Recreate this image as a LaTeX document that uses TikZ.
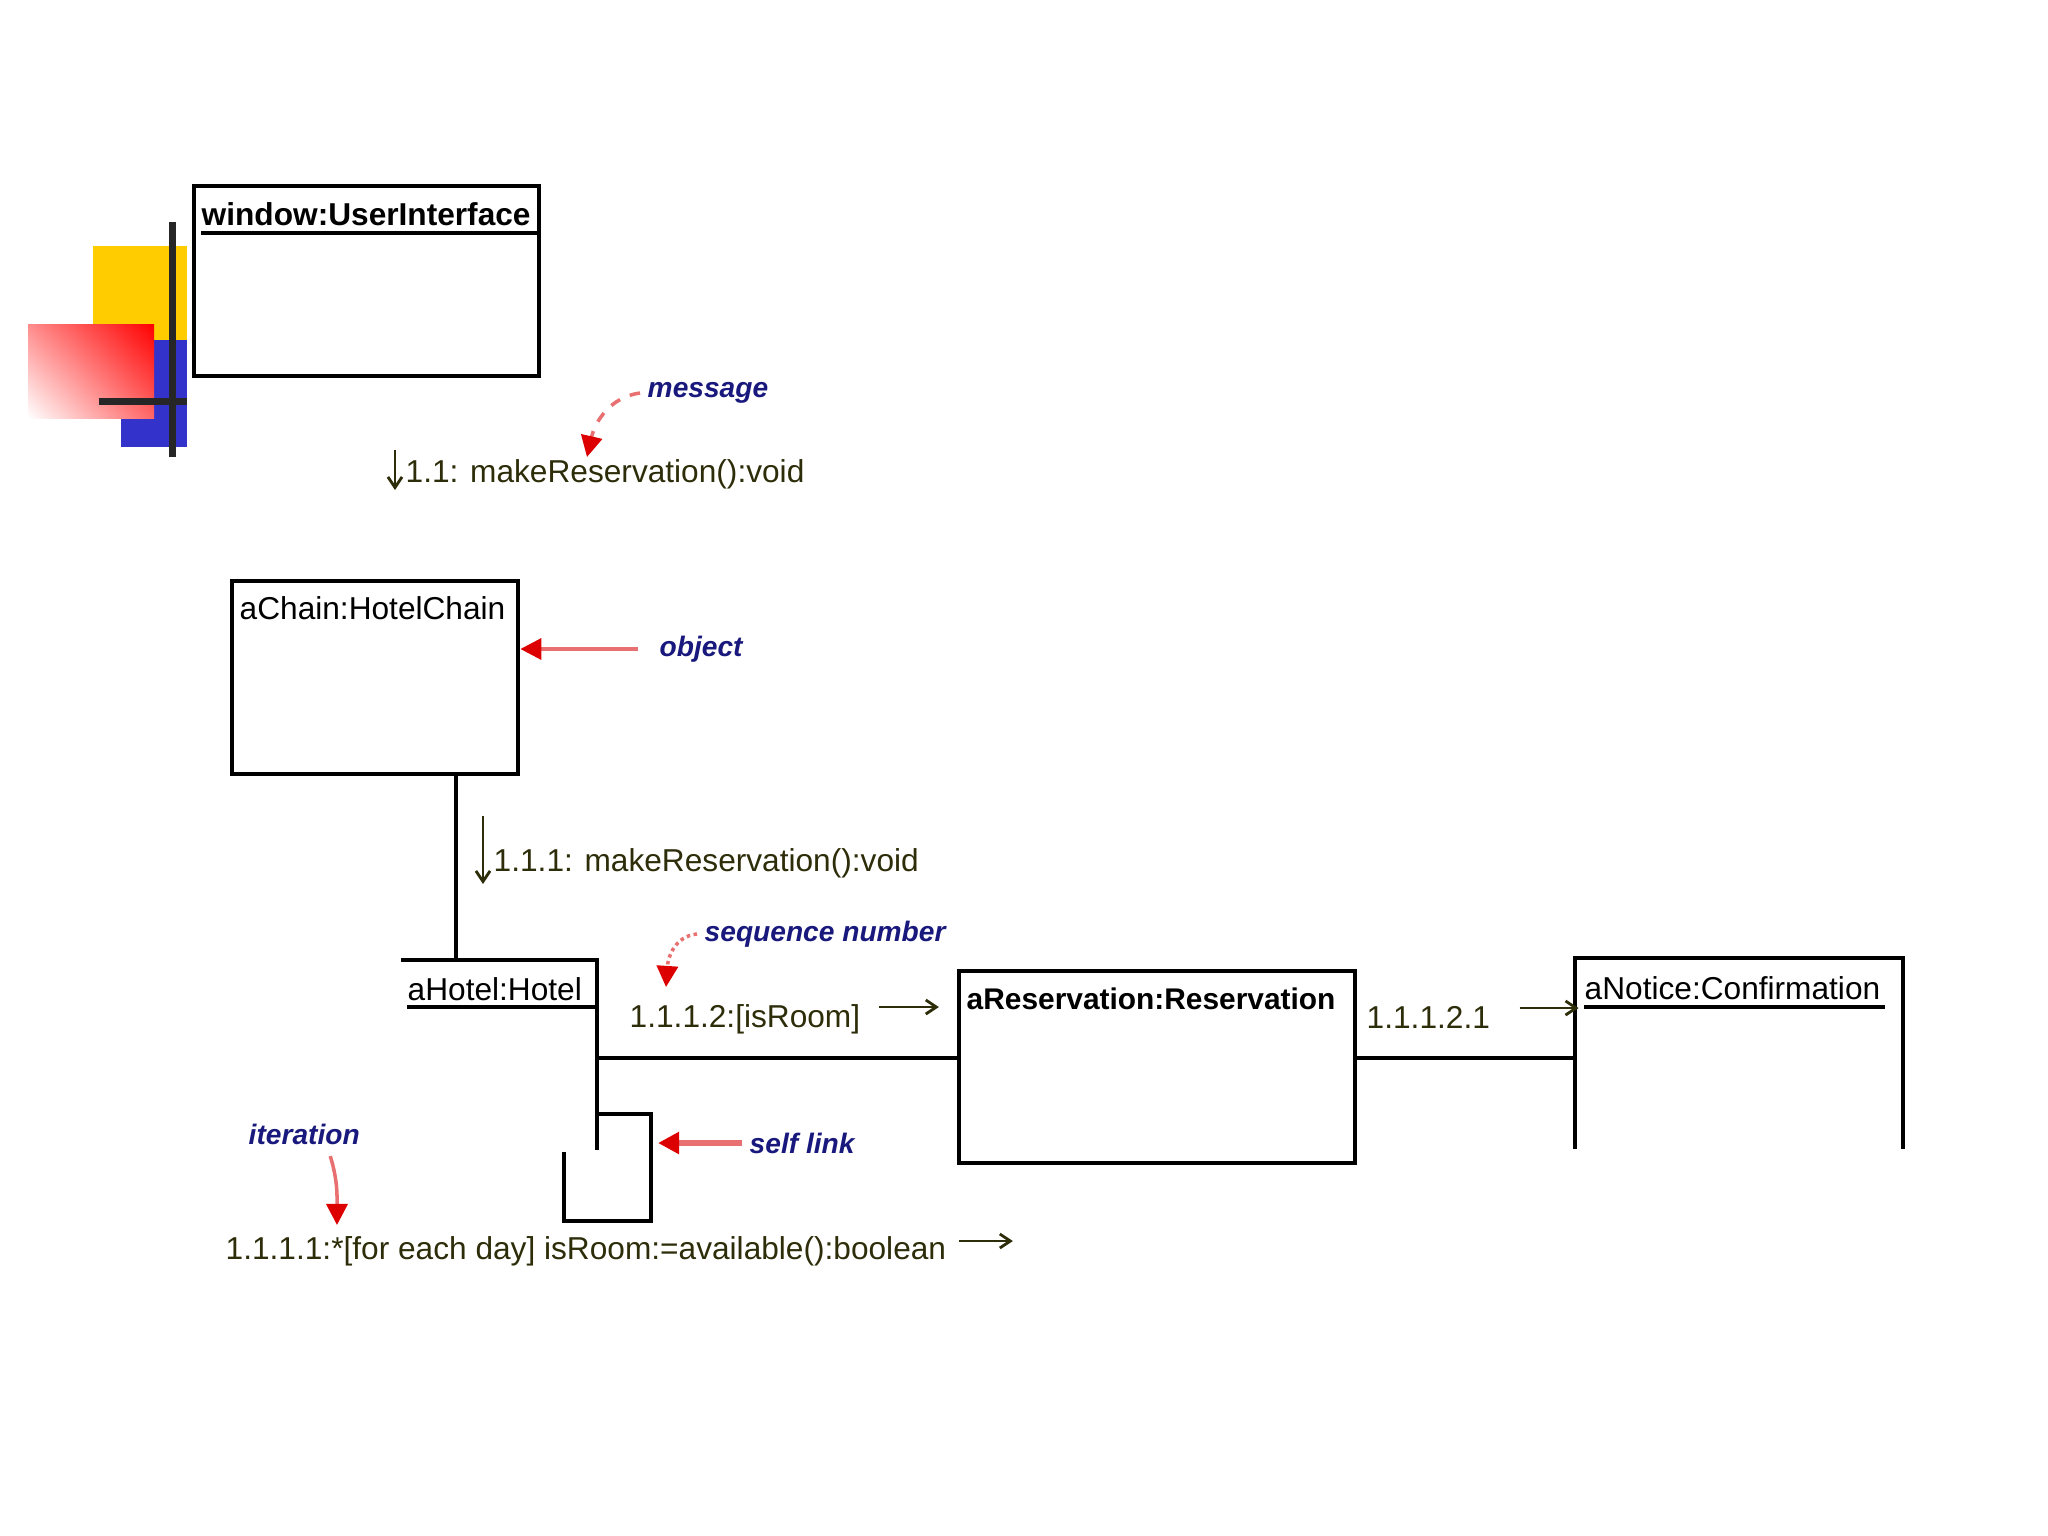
\documentclass[tikz,border=0pt]{standalone}
\usepackage{fontspec}
\setmainfont{Liberation Sans}
\usetikzlibrary{arrows.meta,calc,shadings}

\definecolor{msgtxt}{RGB}{45,45,10}
\definecolor{notetxt}{RGB}{25,25,125}
\definecolor{redline}{RGB}{232,112,112}
\definecolor{redhead}{RGB}{220,0,0}
\definecolor{decoyellow}{RGB}{255,204,0}
\definecolor{decoblue}{RGB}{51,51,204}

\begin{document}
\begin{tikzpicture}[
  x=0.01cm,y=-0.01cm,
  objname/.style={font=\fontsize{9}{11}\selectfont,inner sep=0pt,anchor=base west},
  msg/.style={font=\fontsize{9}{11}\selectfont,text=msgtxt,inner sep=0pt,anchor=base west},
  note/.style={font=\fontsize{8}{10}\selectfont\bfseries\itshape,text=notetxt,inner sep=2pt,anchor=west},
  box/.style={draw,line width=1.2pt,inner sep=0pt,anchor=north west},
  link/.style={line width=1pt},
  flow/.style={msgtxt,line width=0.8pt,-{Straight Barb[length=3pt,width=4pt]}},
  callout/.style={redline,line width=1pt,-{Triangle[length=6pt,width=6pt,color=redhead]}}
]
  \useasboundingbox (0,0) rectangle (2048,1536);

  % decoration
  \fill[decoyellow] (93,246) rectangle (187,340);
  \fill[decoblue] (121,340) rectangle (187,447);
  \shade[upper right=red,upper left=red!45,lower left=white,lower right=red!60]
    (28,324) rectangle (154,418);
  \fill[black!85] (169,222) rectangle (176,457);
  \fill[black!85] (99,398) rectangle (187,405);

  % objects
  \node[box,minimum width=3.45cm,minimum height=1.9cm] (win) at (192,184) {};
  \node[objname,font=\fontsize{9}{11}\selectfont\bfseries] (winlbl) at (201,225) {window:UserInterface};
  \draw[line width=1.2pt] ($(winlbl.base west)+(0,8)$) -- ($(winlbl.base east)+(8,8)$);

  \node[box,minimum width=2.86cm,minimum height=1.93cm] (chain) at (230,579) {};
  \node[objname] (chainlbl) at (239,619) {aChain:HotelChain};

  \node[box,minimum width=3.96cm,minimum height=1.92cm] (resv) at (957,969) {};
  \node[objname,font=\fontsize{8.5}{10}\selectfont\bfseries] (resvlbl) at (966,1009) {aReservation:Reservation};

  % hotel and notice, cut off below
  \coordinate (hotelNW) at (401,960);
  \coordinate (hotelNE) at (597,960);
  \coordinate (hotelSE) at (597,1150);
  \draw[line width=1.2pt] (hotelNW) -- (hotelNE) -- (hotelSE);
  \node[objname] (hotellbl) at (407,1000) {aHotel:Hotel};
  \draw[line width=1.2pt] ($(hotellbl.base west)+(0,7)$) -- ($(hotellbl.base east)+(12,7)$);

  \coordinate (noticeNW) at (1575,958);
  \coordinate (noticeNE) at (1903,958);
  \draw[line width=1.2pt] ($(noticeNW)+(0,191)$) -- (noticeNW) -- (noticeNE) -- ($(noticeNE)+(0,191)$);
  \node[objname] (noticelbl) at (1584,999) {aNotice:Confirmation};
  \draw[line width=1.2pt] ($(noticelbl.base west)+(0,8)$) -- ($(noticelbl.base east)+(4,8)$);

  % links
  \coordinate (hotelTop) at (456,960);
  \coordinate (hotelPort) at (597,1058);
  \draw[link] (chain.south -| hotelTop) -- (hotelTop);
  \draw[link] (hotelPort) -- (resv.west |- hotelPort);
  \draw[link] (resv.east |- hotelPort) -- (noticeNW |- hotelPort);
  % self link
  \draw[line width=1.2pt] ($(hotelSE)+(0,-36)$) -- (651,1114) -- (651,1221) -- (564,1221) -- (564,1152);

  % messages
  \node[msg] (msgA) at (405,482) {1.1: makeReservation():void};
  \draw[flow] ($(msgA.base west)+(-10,-32)$) -- ($(msgA.base west)+(-10,8)$);
  \node[msg] (msgB) at (493,871) {1.1.1: makeReservation():void};
  \draw[flow] ($(msgB.base west)+(-10,-55)$) -- ($(msgB.base west)+(-10,13)$);
  \node[msg] (msgC) at (629,1027) {1.1.1.2:[isRoom]};
  \draw[flow] ($(msgC.base east)+(18,-20)$) -- ($(msgC.base east)+(78,-20)$);
  \node[msg] (msgD) at (225,1259) {1.1.1.1:*[for each day] isRoom:=available():boolean};
  \draw[flow] ($(msgD.base east)+(12,-18)$) -- ($(msgD.base east)+(66,-18)$);
  \node[msg] (msgE) at (1366,1028) {1.1.1.2.1};
  \draw[flow] ($(msgE.base east)+(29,-20)$) -- ($(msgE.base east)+(88,-20)$);

  % notes
  \node[note] (lblMsg) at (640,393) {message};
  \node[note] (lblObj) at (652,649) {object};
  \node[note] (lblSeq) at (697,934) {sequence number};
  \node[note] (lblSelf) at (742,1143) {self link};
  \node[note] (lblIter) at (241,1134) {iteration};

  \coordinate (msgTip) at (587,457);
  \coordinate (seqTip) at (666,987);
  \coordinate (iterTip) at (337,1225);
  \draw[callout,dashed] (lblMsg.west) .. controls +(-30,4) and +(8,-35) .. (msgTip);
  \draw[callout,densely dotted] (lblSeq.west) .. controls +(-22,2) and +(2,-30) .. (seqTip);
  \draw[callout] ($(lblIter.south)+(26,4)$) .. controls +(8,25) and +(0,-25) .. (iterTip);
  \draw[callout,shorten <=4pt] (lblObj.west) -- (chain.east |- lblObj.west);
  \draw[callout,line width=1.8pt,shorten >=2pt] (lblSelf.west) -- (651,1143);
\end{tikzpicture}
\end{document}
